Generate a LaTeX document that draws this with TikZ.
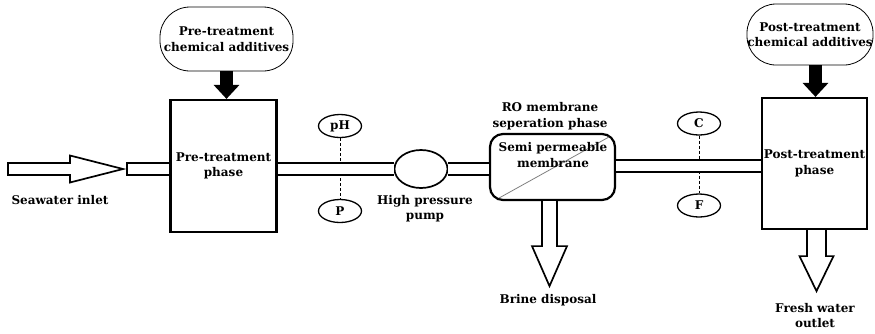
\documentclass[tikz,border=0pt]{standalone}
\usepackage{fontspec}
\setmainfont{DejaVu Serif}
\usetikzlibrary{arrows.meta,calc,shapes.geometric}
\begin{document}
\begin{tikzpicture}[x=1pt,y=-1pt,
  lbl/.style={font=\bfseries\fontsize{12}{15.5}\selectfont, align=center, inner sep=0pt},
  unit/.style={draw, line width=2.2pt, inner sep=0pt, lbl},
  pill/.style={draw, line width=0.8pt, inner sep=0pt, lbl},
  gauge/.style={draw, ellipse, line width=1.3pt, minimum width=43pt, minimum height=23pt, inner sep=0pt, lbl},
  pipe/.style={double=white, double distance=9.5pt, line width=2pt},
  feed/.style={line width=13pt, -{Triangle[width=25pt,length=14pt]}},
  hollow/.style={draw, line width=1.7pt, line join=miter, fill=white},
  sensor/.style={dashed, line width=0.7pt, dash pattern=on 3pt off 2pt},
]
\useasboundingbox (0,0) rectangle (875,333);

% process units
\node[unit, minimum width=106pt, minimum height=132pt] (pre) at (223.5,166) {Pre-treatment\\phase};
\node[unit, minimum width=105pt, minimum height=131pt] (post) at (814.5,163.5) {Post-treatment\\phase};
\node[draw, line width=2.2pt, rounded corners=13pt, minimum width=125pt, minimum height=66pt, inner sep=0pt] (mem) at (552.5,167) {};

% chemical dosing
\node[pill, rounded corners=30pt, minimum width=133pt, minimum height=64pt] (prepill) at (226.5,39) {Pre-treatment\\chemical additives};
\node[pill, rounded corners=29pt, minimum width=126pt, minimum height=61pt] (postpill) at (810,34.5) {Post-treatment\\chemical additives};
\coordinate (prefeed) at (prepill.south);
\coordinate (postfeed) at ($(postpill.south)+(5.5,0)$);
\draw[feed] (prefeed) -- (prefeed |- pre.north);
\draw[feed] (postfeed) -- (postfeed |- post.north);

% pump and sensors
\node[draw, ellipse, line width=1.7pt, minimum width=53pt, minimum height=38pt, inner sep=0pt] (pump) at (421,169) {};
\node[gauge] (ph) at (340,126) {pH};
\node[gauge] (p) at (340,211) {P};
\node[gauge] (c) at (699,123.5) {C};
\node[gauge] (f) at (699,205.5) {F};
\draw[sensor] (ph) -- (p);
\draw[sensor] (c) -- (f);

% inlet
\node[draw, line width=1.8pt, minimum width=43pt, minimum height=12pt, inner sep=0pt] (inpipe) at (148.5,169) {};
\coordinate (seatail) at (8,169);
\coordinate (seatip) at (123,169);
\draw[hollow] ($(seatail)+(0,-6)$) -- ($(seatail)+(62,-6)$) -- ($(seatail)+(62,-13.5)$) -- (seatip)
  -- ($(seatail)+(62,13.5)$) -- ($(seatail)+(62,6)$) -- ($(seatail)+(0,6)$) -- cycle;
\node[lbl] (sealbl) at (60,200) {Seawater inlet};

% piping
\coordinate (memout) at ($(mem.east)+(0,-1)$);
\draw[pipe] (pre.east |- pump.west) -- (pump.west);
\draw[pipe] (pump.east) -- (mem.west |- pump.east);
\draw[pipe] (memout) -- (memout -| post.west);

% membrane
\draw[gray, line width=0.8pt] ($(mem.south west)+(10,-3)$) -- ($(mem.north east)+(-7,4)$);
\node[lbl] (memlbl) at (553,155) {Semi permeable\\membrane};
\node[lbl] (rolbl) at (550,116) {RO membrane\\seperation phase};
\node[lbl] (pumplbl) at (425,208.5) {High pressure\\pump};

% brine outlet
\coordinate (brinetop) at ($(mem.south)+(-3,0)$);
\coordinate (brinetip) at ($(brinetop)+(0,85)$);
\draw[hollow] ($(brinetop)+(-7.5,0)$) -- ($(brinetop)+(-7.5,45)$) -- ($(brinetop)+(-17.5,45)$) -- (brinetip)
  -- ($(brinetop)+(17.5,45)$) -- ($(brinetop)+(7.5,45)$) -- ($(brinetop)+(7.5,0)$);
\node[lbl] (brinelbl) at (548,300) {Brine disposal};

% product water outlet
\coordinate (freshtop) at ($(post.south)+(2,0)$);
\coordinate (freshtip) at ($(freshtop)+(0,61)$);
\draw[hollow] ($(freshtop)+(-9.5,0)$) -- ($(freshtop)+(-9.5,26)$) -- ($(freshtop)+(-17,26)$) -- (freshtip)
  -- ($(freshtop)+(17,26)$) -- ($(freshtop)+(9.5,26)$) -- ($(freshtop)+(9.5,0)$);
\node[lbl] (freshlbl) at (815,315.5) {Fresh water\\outlet};
\end{tikzpicture}
\end{document}
